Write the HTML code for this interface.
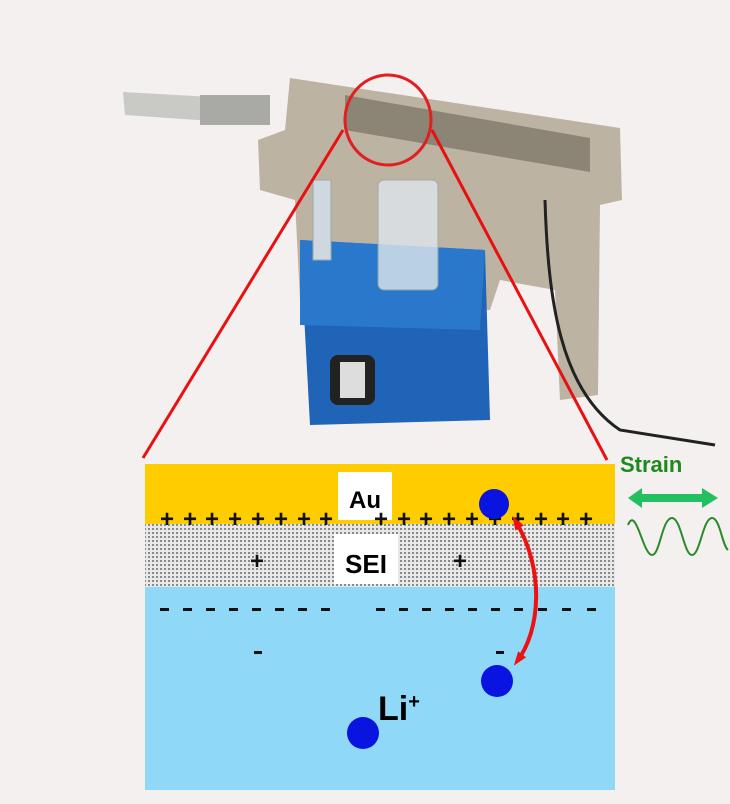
<!DOCTYPE html>
<html><head><style>
body{margin:0;background:#f4f0f0;}
svg{display:block;font-family:"Liberation Sans",sans-serif;}
</style></head><body>
<svg width="730" height="804" viewBox="0 0 730 804">
<defs>
<pattern id="dots" width="4" height="4" patternUnits="userSpaceOnUse">
<rect width="4" height="4" fill="#e8e8e8"/><rect width="2" height="2" fill="#8a8a8a"/>
</pattern>
<marker id="ah" markerUnits="userSpaceOnUse" markerWidth="14" markerHeight="14" refX="7" refY="7" orient="auto-start-reverse"><path d="M0,2L14,7L0,12z" fill="#ee1111"/></marker>
</defs>
<rect width="730" height="804" fill="#f4f0f0"/>
<!-- photo approximation -->
<path d="M123,92 L265,100 L270,125 L125,115z" fill="#c9c9c6"/>
<rect x="200" y="95" width="70" height="30" fill="#a9a9a6"/>
<path d="M290,78 L620,128 L622,200 L600,205 L598,395 L560,400 L555,290 L500,280 L490,310 L300,300 L295,200 L260,190 L258,140 L285,130z" fill="#bdb3a2"/>
<path d="M345,95 L590,138 L590,172 L345,130z" fill="#8c8576"/>
<path d="M300,240 L485,250 L490,420 L310,425z" fill="#1f64b7"/>
<path d="M300,240 L485,250 L480,330 L300,325z" fill="#2a78cc"/>
<rect x="330" y="355" width="45" height="50" rx="8" fill="#222"/>
<rect x="340" y="362" width="25" height="36" fill="#ddd"/>
<rect x="378" y="180" width="60" height="110" rx="6" fill="#dfe6ec" stroke="#9aa" opacity="0.8"/>
<rect x="313" y="180" width="18" height="80" fill="#cfd8de" stroke="#9aa"/>
<path d="M545,200 C548,300 560,390 620,430 L715,445" stroke="#222" stroke-width="3" fill="none"/>
<ellipse cx="388" cy="120" rx="43" ry="45" fill="none" stroke="#e02020" stroke-width="3"/>
<line x1="343" y1="130" x2="143" y2="458" stroke="#e81010" stroke-width="3"/>
<line x1="432" y1="130" x2="607" y2="460" stroke="#e81010" stroke-width="3"/>
<!-- diagram -->
<rect x="145" y="464" width="470" height="60" fill="#ffcc00"/>
<rect x="145" y="524" width="470" height="63" fill="url(#dots)"/>
<rect x="145" y="587" width="470" height="203" fill="#8fd8f8"/>
<rect x="338" y="472" width="54" height="48" fill="#fff"/>
<rect x="334" y="534" width="64" height="50" fill="#fff"/>
<text x="365" y="508" font-size="24" font-weight="bold" text-anchor="middle">Au</text>
<text x="366" y="573" font-size="26" font-weight="bold" text-anchor="middle">SEI</text>
<g font-size="24" font-weight="bold" text-anchor="middle" fill="#111">
<text x="167" y="527">+</text><text x="190" y="527">+</text><text x="212" y="527">+</text><text x="235" y="527">+</text><text x="258" y="527">+</text><text x="281" y="527">+</text><text x="304" y="527">+</text><text x="326" y="527">+</text>
<text x="381" y="527">+</text><text x="404" y="527">+</text><text x="426" y="527">+</text><text x="449" y="527">+</text><text x="472" y="527">+</text><text x="495" y="527">+</text><text x="518" y="527">+</text><text x="541" y="527">+</text><text x="563" y="527">+</text><text x="586" y="527">+</text>
<text x="257" y="569">+</text><text x="460" y="569">+</text>
</g>
<g fill="#111">
<rect x="160" y="608" width="9" height="3"/><rect x="183" y="608" width="9" height="3"/><rect x="206" y="608" width="9" height="3"/><rect x="229" y="608" width="9" height="3"/><rect x="252" y="608" width="9" height="3"/><rect x="275" y="608" width="9" height="3"/><rect x="298" y="608" width="9" height="3"/><rect x="321" y="608" width="9" height="3"/>
<rect x="376" y="608" width="9" height="3"/><rect x="399" y="608" width="9" height="3"/><rect x="422" y="608" width="9" height="3"/><rect x="445" y="608" width="9" height="3"/><rect x="468" y="608" width="9" height="3"/><rect x="491" y="608" width="9" height="3"/><rect x="514" y="608" width="9" height="3"/><rect x="538" y="608" width="9" height="3"/><rect x="562" y="608" width="9" height="3"/><rect x="587" y="608" width="9" height="3"/>
<rect x="254" y="651" width="8" height="3"/><rect x="496" y="651" width="8" height="3"/>
</g>
<circle cx="494" cy="504" r="15" fill="#0a14e0"/>
<circle cx="497" cy="681" r="16" fill="#0a14e0"/>
<circle cx="363" cy="733" r="16" fill="#0a14e0"/>
<path d="M516,522 C545,570 540,630 518,660" stroke="#ee1111" stroke-width="4" fill="none" marker-start="url(#ah)" marker-end="url(#ah)"/>
<text x="378" y="720" font-size="34" font-weight="bold">Li<tspan font-size="20" dy="-12">+</tspan></text>
<text x="620" y="472" font-size="22" font-weight="bold" fill="#1d8a1d">Strain</text>
<path d="M628,498 L642,488 L642,494 L702,494 L702,488 L718,498 L702,508 L702,502 L642,502 L642,508z" fill="#22c060"/>
<path d="M628,525 C636,505 643,555 652,555 C660,555 662,518 672,518 C681,518 684,555 692,555 C700,555 703,518 712,518 C720,518 722,545 728,550" stroke="#2a8a2a" stroke-width="2" fill="none"/>
</svg>
</body></html>
